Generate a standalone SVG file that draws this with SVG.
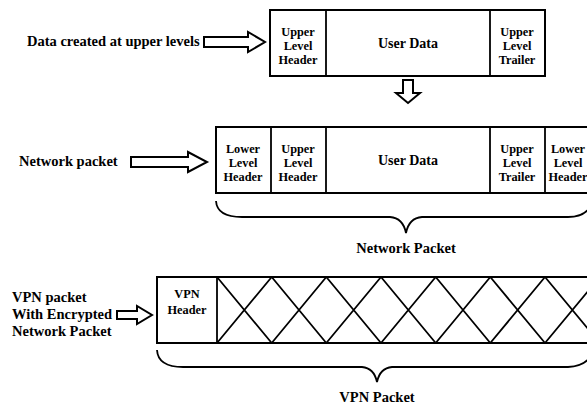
<svg xmlns="http://www.w3.org/2000/svg" width="587" height="408" viewBox="0 0 587 408">
<style>
.box{fill:#fff;stroke:#000;stroke-width:2}
.ln{fill:none;stroke:#000;stroke-width:1.8}
.arr{fill:#fff;stroke:#000;stroke-width:2;stroke-linejoin:miter}
text{font-family:'Liberation Serif','DejaVu Serif',serif;font-weight:bold;fill:#000}
.c{font-size:12.3px;text-anchor:middle}
.big{font-size:14.5px}
.ud{font-size:14px;text-anchor:middle}
.mid{text-anchor:middle}
</style>
<rect width="587" height="408" fill="#fff"/>
<g id="labels">
<text class="big" x="27" y="46">Data created at upper levels</text>
<text class="big" x="19" y="166">Network packet</text>
<text class="big" x="12" y="302">VPN packet</text>
<text class="big" x="12" y="319">With Encrypted</text>
<text class="big" x="12" y="336">Network Packet</text>
</g>
<g id="upper-packet">
<rect class="box" x="270" y="10" width="275" height="66"/>
<line class="ln" x1="326" y1="10" x2="326" y2="76"/>
<line class="ln" x1="490" y1="10" x2="490" y2="76"/>
<text class="c"><tspan x="298" y="36">Upper</tspan><tspan x="298" y="50">Level</tspan><tspan x="298" y="64">Header</tspan></text>
<text class="ud" x="408" y="48">User Data</text>
<text class="c"><tspan x="517" y="36">Upper</tspan><tspan x="517" y="50">Level</tspan><tspan x="517" y="64">Trailer</tspan></text>
</g>
<g id="network-packet">
<rect class="box" x="216" y="127" width="380" height="66"/>
<line class="ln" x1="271" y1="127" x2="271" y2="193"/>
<line class="ln" x1="326" y1="127" x2="326" y2="193"/>
<line class="ln" x1="490" y1="127" x2="490" y2="193"/>
<line class="ln" x1="545" y1="127" x2="545" y2="193"/>
<text class="c"><tspan x="243" y="153">Lower</tspan><tspan x="243" y="167">Level</tspan><tspan x="243" y="181">Header</tspan></text>
<text class="c"><tspan x="298" y="153">Upper</tspan><tspan x="298" y="167">Level</tspan><tspan x="298" y="181">Header</tspan></text>
<text class="ud" x="408" y="165">User Data</text>
<text class="c"><tspan x="517" y="153">Upper</tspan><tspan x="517" y="167">Level</tspan><tspan x="517" y="181">Trailer</tspan></text>
<text class="c"><tspan x="568" y="153">Lower</tspan><tspan x="568" y="167">Level</tspan><tspan x="568" y="181">Header</tspan></text>
<text class="big mid" x="406" y="253">Network Packet</text>
</g>
<g id="vpn-packet">
<rect class="box" x="157" y="277" width="440" height="66"/>
<line class="ln" x1="217" y1="277" x2="217" y2="343"/>
<path class="ln" d="M217,277 L271.7,343 M271.7,277 L217,343 M271.7,277 L326.3,343 M326.3,277 L271.7,343 M326.3,277 L381,343 M381,277 L326.3,343 M381,277 L435.7,343 M435.7,277 L381,343 M435.7,277 L490.3,343 M490.3,277 L435.7,343 M490.3,277 L545,343 M545,277 L490.3,343 M545,277 L599.7,343 M599.7,277 L545,343"/>
<text class="c"><tspan x="187" y="298">VPN</tspan><tspan x="187" y="314">Header</tspan></text>
<text class="big mid" x="377" y="402">VPN Packet</text>
</g>
<g id="connectors">
<path class="arr" d="M204,37 L248,37 L248,32 L265,42 L248,52 L248,47 L204,47 Z"/>
<path class="arr" d="M131,157 L188,157 L188,152 L207,162 L188,172 L188,167 L131,167 Z"/>
<path class="arr" d="M117,311 L137,311 L137,306 L152,315 L137,324 L137,319 L117,319 Z"/>
<path class="arr" d="M403,80 L413,80 L413,93 L420,93 L408,103 L396,93 L403,93 Z"/>
<path class="ln" d="M216,201 Q217,217 242,217 L390,217 Q403,218 406,233 Q409,218 422,217 L568,217 Q584,217 590,207"/>
<path class="ln" d="M157,350 Q158,367 183,367 L362,367 Q374,368 377,382 Q380,368 392,367 L568,367 Q584,366 590,357"/>
</g>
</svg>
